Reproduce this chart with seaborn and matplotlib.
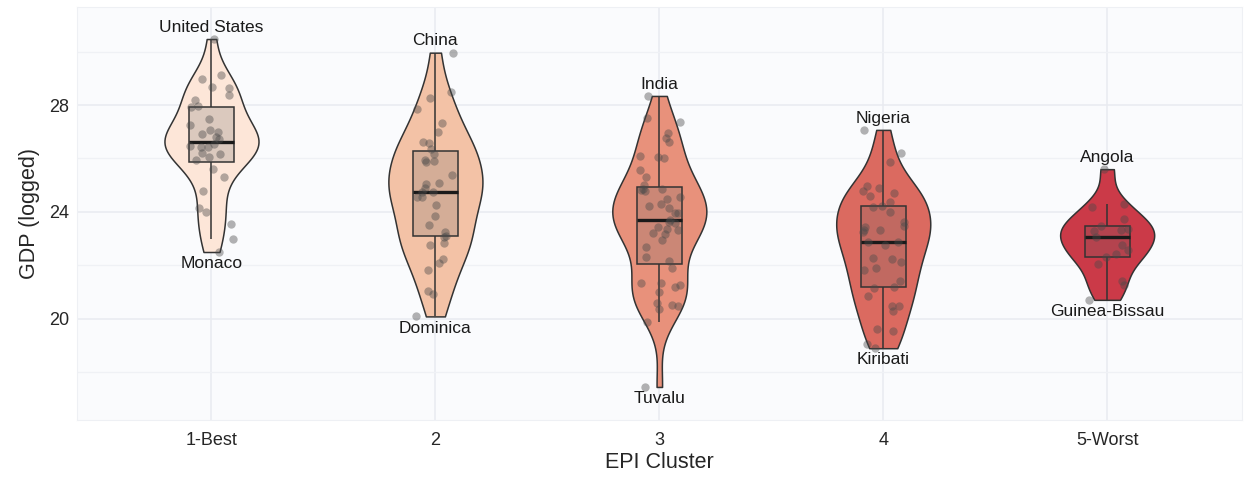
import numpy as np
import pandas as pd
import matplotlib
matplotlib.use("Agg")
import matplotlib.pyplot as plt
import seaborn as sns

clusters = ["1-Best", "2", "3", "4", "5-Worst"]
colors = ["#FDE6D8", "#F3C2A6", "#E8917B", "#DB6A60", "#CB3A48"]

gdp_1 = [30.47, 29.13, 28.97, 28.68, 28.65, 28.37, 28.19, 27.96, 27.94, 27.48,
         27.24, 27.07, 26.99, 26.92, 26.72, 26.79, 26.48, 26.54, 26.44, 26.44,
         26.22, 26.17, 26.07, 25.94, 25.62, 25.30, 24.80, 24.16, 23.98, 23.54,
         22.98, 22.50]
gdp_2 = [29.96, 28.47, 28.25, 27.85, 27.32, 26.99, 26.57, 26.63, 26.37, 26.17,
         25.94, 25.88, 25.91, 25.38, 25.10, 25.05, 24.89, 24.74, 24.57, 24.74,
         24.26, 24.57, 23.85, 23.50, 23.26, 23.10, 23.08, 22.85, 22.77, 22.23,
         21.81, 22.10, 21.05, 20.93, 20.09]
gdp_3 = [28.34, 27.38, 27.50, 26.94, 26.75, 26.63, 26.07, 26.03, 26.10, 25.57,
         25.32, 25.01, 24.82, 24.85, 24.85, 24.80, 24.55, 24.49, 24.30, 24.14,
         24.22, 23.95, 23.95, 23.64, 23.45, 23.58, 23.70, 23.35, 23.33, 23.17,
         23.20, 22.95, 22.70, 22.33, 22.18, 21.90, 21.27, 21.19, 21.33, 21.33,
         21.02, 20.49, 20.52, 20.37, 20.59, 19.88, 17.45]
gdp_4 = [27.07, 26.22, 25.86, 24.97, 24.89, 24.80, 24.61, 24.70, 24.36, 24.24,
         24.20, 23.98, 23.64, 23.33, 23.33, 23.26, 23.43, 23.48, 22.77, 22.89,
         22.87, 22.27, 22.23, 22.14, 21.90, 21.83, 21.42, 21.15, 21.19, 20.86,
         20.49, 20.49, 20.28, 19.62, 19.55, 19.05, 18.90]
gdp_5 = [25.60, 24.30, 24.20, 23.74, 23.33, 23.35, 23.49, 23.30, 23.05, 22.77,
         22.58, 22.43, 22.33, 22.06, 21.40, 21.27, 20.71]

top_names = ["United States", "China", "India", "Nigeria", "Angola"]
bottom_names = ["Monaco", "Dominica", "Tuvalu", "Kiribati", "Guinea-Bissau"]

all_gdp = [gdp_1, gdp_2, gdp_3, gdp_4, gdp_5]
df = pd.DataFrame({
    "cluster": np.repeat(clusters, [len(g) for g in all_gdp]),
    "gdp": np.concatenate(all_gdp),
})

sns.set_style("whitegrid")
plt.rcParams["font.family"] = ["Liberation Sans", "DejaVu Sans"]

fig, ax = plt.subplots(figsize=(12.44, 4.82), dpi=100)
fig.subplots_adjust(left=0.062, right=0.998, top=0.985, bottom=0.129)
ax.set_facecolor("#FAFBFD")

sns.violinplot(data=df, x="cluster", y="gdp", hue="cluster", order=clusters,
               palette=colors, saturation=1, cut=0, inner=None, density_norm="count",
               width=0.42, linewidth=1.1, linecolor="#333333",
               bw_method="silverman", bw_adjust=0.75, legend=False, ax=ax)

sns.boxplot(data=df, x="cluster", y="gdp", order=clusters, width=0.2,
            showfliers=False, linewidth=1.1, color="#888888", saturation=1,
            boxprops=dict(facecolor=(0.4, 0.4, 0.4, 0.22), edgecolor="#333333"),
            whiskerprops=dict(color="#333333"), capprops=dict(color="#333333", linewidth=0),
            medianprops=dict(color="#1a1a1a", linewidth=2.4), ax=ax)

np.random.seed(3)
sns.stripplot(data=df, x="cluster", y="gdp", order=clusters, jitter=0.1,
              color="#4a4a4a", alpha=0.42, size=6, linewidth=0, ax=ax)

for i, g in enumerate(all_gdp):
    ax.annotate(top_names[i], (i, max(g)), xytext=(0, 3), textcoords="offset points",
                ha="center", va="bottom", fontsize=12.5, color="#1a1a1a")
    ax.annotate(bottom_names[i], (i, min(g)), xytext=(0, -3), textcoords="offset points",
                ha="center", va="top", fontsize=12.5, color="#1a1a1a")

ax.set_xlim(-0.6, 4.6)
ax.set_ylim(16.22, 31.66)
ax.set_yticks([20, 24, 28])
ax.set_yticks([18, 22, 26, 30], minor=True)
ax.grid(True, which="major", color="#E9EBF0", linewidth=1.1)
ax.grid(True, which="minor", axis="y", color="#EFF1F5", linewidth=0.9)
ax.set_axisbelow(True)
for s in ax.spines.values():
    s.set_color("#EEF0F4")
ax.tick_params(axis="x", length=3, color="#333333", labelsize=13, pad=6)
ax.tick_params(axis="y", length=0, labelsize=13, pad=6)
ax.tick_params(which="minor", length=0)
ax.set_xlabel("EPI Cluster", fontsize=15.5, labelpad=2)
ax.set_ylabel("GDP (logged)", fontsize=15.5, labelpad=6)

fig.savefig("out.png", dpi=100)
